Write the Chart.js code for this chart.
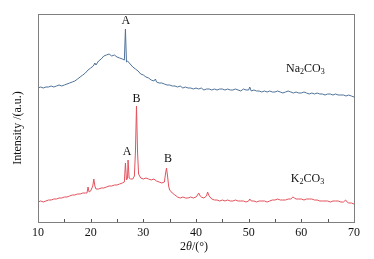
<!DOCTYPE html>
<html><head><meta charset="utf-8">
<script src="https://cdn.jsdelivr.net/npm/chart.js@4"></script>
<style>html,body{margin:0;padding:0;background:#fff;}#wrap{width:374px;height:259px;position:relative;}</style>
</head><body><div id="wrap"><canvas id="c" width="374" height="259"></canvas></div>
<script>
const xTicks = [10, 20, 30, 40, 50, 60, 70];
const seriesNames = ['Na2CO3', 'K2CO3'];
const naAngles = [10,10.5,11,11.5,12,12.5,13,13.5,14,14.5,15,15.5,16,16.5,17,17.5,18,18.5,19,19.5,20,20.5,20.8,21,21.5,22,22.5,23,23.5,24,24.5,25,25.5,26,26.4,26.6,26.8,27,27.5,28,28.5,29,29.5,30,30.5,31,31.5,32,32.3,32.5,33,33.5,34,34.5,35,35.5,36,36.5,37,37.5,38,38.5,39,39.5,40,40.5,41,41.5,42,42.5,43,43.5,44,44.5,45,45.5,46,46.5,47,47.5,48,48.5,49,49.5,50,50.2,50.5,51,51.5,52,52.5,53,53.5,54,54.5,55,55.5,56,56.5,57,57.5,58,58.5,59,59.5,60,60.5,61,61.5,62,62.5,63,63.5,64,64.5,65,65.5,66,66.5,67,67.5,68,68.5,69,69.5,70];
const naCounts = [134,135,134,135,135,136,135,136,137,136,137,138,139,140,141,143,145,147,149,152,154,156,159,157,161,163,166,167,168,166,167,165,164,163,162,193,160,161,158,155,153,151,148,147,145,144,142,141,143,140,139,139,138,137,137,136,136,135,136,134,135,134,134,133,134,133,134,132,133,133,132,133,132,133,133,132,133,132,132,133,132,131,133,132,132,135,131,132,131,131,130,131,130,131,130,130,131,130,129,130,131,130,129,130,129,129,130,129,128,129,128,129,128,128,127,128,128,127,128,127,127,127,126,127,126,125];
const kAngles = [10,10.5,11,11.5,12,12.5,13,13.5,14,14.5,15,15.5,16,16.5,17,17.5,18,18.5,19,19.3,19.5,19.7,20,20.4,20.6,20.8,21,21.5,22,22.5,23,23.5,24,24.5,25,25.5,26,26.4,26.6,26.8,27,27.1,27.3,27.6,28,28.3,28.5,28.7,28.9,29.1,29.5,30,30.5,31,31.5,32,32.5,33,33.5,34,34.2,34.4,34.6,34.8,35,35.5,36,36.5,37,37.5,38,38.5,39,39.5,40,40.3,40.5,40.8,41,41.5,42,42.2,42.5,43,43.5,44,44.5,45,45.5,46,46.5,47,47.5,48,48.5,49,49.5,50,50.2,50.5,51,51.5,52,52.5,53,53.5,54,54.5,55,55.5,56,56.5,57,57.5,58,58.4,58.7,59,59.5,60,60.5,61,61.5,62,62.5,63,63.5,64,64.5,65,65.5,66,66.5,67,67.5,68,68.4,68.7,69,69.5,70];
const kCounts = [20,21,20,21,22,22,23,23,24,24,25,25,26,27,27,28,28,29,29,29,35,30,31,36,43,36,33,33,34,34,35,36,36,37,37,38,39,40,59,42,44,62,44,43,43,46,70,116,70,48,44,43,44,43,42,43,41,40,39,40,48,54,46,36,32,29,27,25,24,25,24,24,25,24,25,27,29,26,25,24,26,30,26,23,22,22,21,22,21,22,21,21,22,21,21,21,20,21,23,21,21,20,21,21,21,20,21,22,22,23,22,22,22,23,23,25,24,23,23,23,22,23,23,23,22,22,21,21,21,21,20,21,21,21,20,20,22,20,19,19,18];
const peakLabels = [
  {text:'A', x:26.7, y:201},
  {text:'A', x:26.9, y:70},
  {text:'B', x:28.7, y:123},
  {text:'B', x:34.7, y:63}
];

const FONT = '"Liberation Serif", "Times New Roman", serif';

function drawFormula(ctx, parts, x, y) {
  let cx = x;
  parts.forEach(p => {
    ctx.font = (p[1] ? '8px ' : '12px ') + FONT;
    ctx.fillText(p[0], cx, y + (p[1] ? 3 : 0));
    cx += ctx.measureText(p[0]).width;
  });
}

const deco = {
  id: 'deco',
  afterDraw(chart) {
    const ctx = chart.ctx, a = chart.chartArea;
    const xs = chart.scales.x, ys = chart.scales.y;
    ctx.save();
    ctx.strokeStyle = '#7f7f7f';
    ctx.lineWidth = 1;
    ctx.strokeRect(Math.round(a.left) + 0.5, Math.round(a.top) + 0.5, Math.round(a.right - a.left), Math.round(a.bottom - a.top));
    ctx.strokeStyle = '#555';
    for (let v = 15; v < 70; v += 5) {
      const px = Math.round(xs.getPixelForValue(v)) + 0.5;
      ctx.beginPath(); ctx.moveTo(px, a.bottom); ctx.lineTo(px, a.bottom - 3); ctx.stroke();
    }
    ctx.fillStyle = '#111';
    ctx.textBaseline = 'middle';
    ctx.textAlign = 'center';
    ctx.font = '12px ' + FONT;
    peakLabels.forEach(l => ctx.fillText(l.text, xs.getPixelForValue(l.x), ys.getPixelForValue(l.y)));
    ctx.textAlign = 'left';
    drawFormula(ctx, [['Na',0],['2',1],['CO',0],['3',1]], xs.getPixelForValue(57.1), ys.getPixelForValue(153));
    drawFormula(ctx, [['K',0],['2',1],['CO',0],['3',1]], xs.getPixelForValue(58.0), ys.getPixelForValue(43));
    const parts = [['2', ''], ['θ', 'italic '], ['/(°)', '']];
    let total = 0;
    parts.forEach(p => { ctx.font = p[1] + '12px ' + FONT; total += ctx.measureText(p[0]).width; });
    let cx = 194 - total / 2;
    parts.forEach(p => { ctx.font = p[1] + '12px ' + FONT; ctx.fillText(p[0], cx, 247); cx += ctx.measureText(p[0]).width; });
    ctx.translate(18, 128);
    ctx.rotate(-Math.PI / 2);
    ctx.textAlign = 'center';
    ctx.font = '12px ' + FONT;
    ctx.fillText('Intensity /(a.u.)', 0, 0);
    ctx.restore();
  }
};

new Chart(document.getElementById('c'), {
  type: 'line',
  data: {
    datasets: [
      { label: seriesNames[0], data: naAngles.map((a, i) => ({x: a, y: naCounts[i]})), borderColor: '#4f7299', borderWidth: 1, pointRadius: 0, tension: 0 },
      { label: seriesNames[1], data: kAngles.map((a, i) => ({x: a, y: kCounts[i]})), borderColor: '#e2525d', borderWidth: 1, pointRadius: 0, tension: 0 }
    ]
  },
  options: {
    responsive: false,
    animation: false,
    devicePixelRatio: 1,
    layout: { padding: { left: 38, right: 20, top: 14, bottom: 0 } },
    plugins: { legend: { display: false }, tooltip: { enabled: false } },
    scales: {
      x: {
        type: 'linear', min: 10, max: 70,
        afterBuildTicks: s => { s.ticks = xTicks.map(v => ({value: v})); },
        afterFit: s => { s.height = 37; },
        grid: { display: false, drawTicks: false },
        border: { display: false },
        ticks: { padding: 4, color: '#111', font: { family: FONT, size: 12 }, maxRotation: 0 }
      },
      y: { min: 0, max: 208, display: false }
    }
  },
  plugins: [deco]
});
</script>
</body></html>
